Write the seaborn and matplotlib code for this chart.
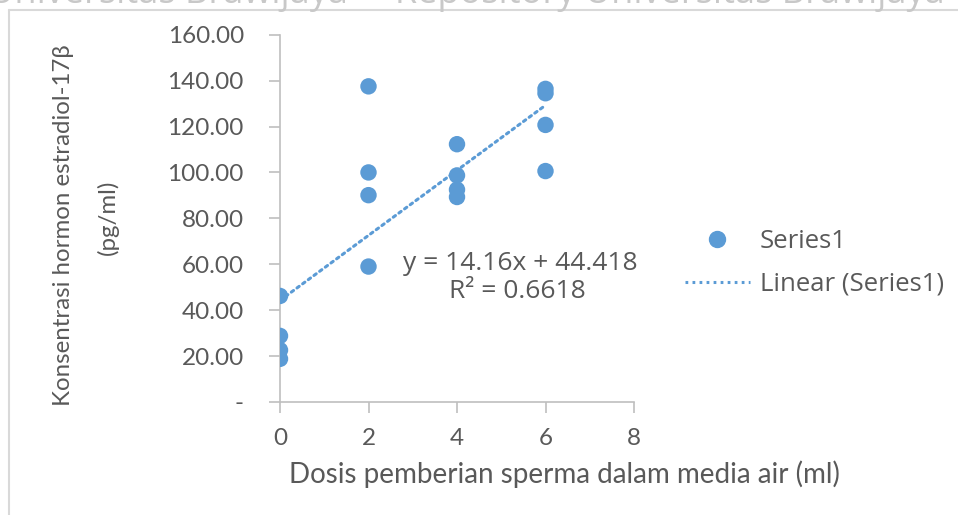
import numpy as np
import pandas as pd
import matplotlib
matplotlib.use("Agg")
import matplotlib.pyplot as plt
from matplotlib.lines import Line2D
import seaborn as sns

# ---- data ----
dose_ml = [0, 0, 0, 0, 2, 2, 2, 2, 4, 4, 4, 4, 6, 6, 6, 6]
estradiol = [46.2, 28.8, 22.6, 18.8,
             137.5, 100.0, 90.1, 59.0,
             112.3, 98.7, 92.5, 89.3,
             136.4, 134.5, 120.7, 100.6]
x_ticks = [0, 2, 4, 6, 8]
y_ticks = [0, 20, 40, 60, 80, 100, 120, 140, 160]
y_tick_labels = ["-", "20.00", "40.00", "60.00", "80.00", "100.00", "120.00", "140.00", "160.00"]
series_name = "Series1"
trend_name = "Linear (Series1)"
eq_text = "y = 14.16x + 44.418"
r2_text = "R\u00b2 = 0.6618"
x_label = "Dosis pemberian sperma dalam media air (ml)"
y_label_1 = "Konsentrasi hormon estradiol-17\u03b2"
y_label_2 = "(pg/ml)"
watermark = "Universitas Brawijaya     Repository Universitas Brawijaya"

df = pd.DataFrame({"dose": dose_ml, "e2": estradiol})
slope, intercept = np.polyfit(df["dose"], df["e2"], 1)
xs = np.array([min(dose_ml), max(dose_ml)], dtype=float)
trend = pd.DataFrame({"dose": xs, "fit": slope * xs + intercept})

sns.set_theme(style="white")
plt.rcParams["font.family"] = ["Lato", "DejaVu Sans"]

BLUE = "#5B9BD5"
TXT = "#595959"
AX = "#BFBFBF"
SEGOE = ["Open Sans", "DejaVu Sans"]
DOTS = (0, (0.9, 1.4))

fig = plt.figure(figsize=(9.58, 5.15), dpi=100)
ax = fig.add_axes([280 / 958, 1 - 402 / 515, (634 - 280) / 958, (402 - 34.7) / 515])

sns.lineplot(data=trend, x="dose", y="fit", ax=ax, color=BLUE, lw=2.2,
             linestyle=DOTS, dash_capstyle="round", zorder=2)
sns.scatterplot(data=df, x="dose", y="e2", ax=ax, color=BLUE, s=140,
                edgecolor="none", zorder=3)

ax.set_xlim(0, 8)
ax.set_ylim(0, 160)
ax.set_xticks(x_ticks)
ax.set_yticks(y_ticks)
ax.set_yticklabels(y_tick_labels)
ax.set_xlabel("")
ax.set_ylabel("")
for s in ["top", "right"]:
    ax.spines[s].set_visible(False)
for s in ["left", "bottom"]:
    ax.spines[s].set_color(AX)
    ax.spines[s].set_linewidth(1.2)
ax.tick_params(axis="both", direction="out", length=8, width=1.2, color=AX,
               labelcolor=TXT, labelsize=17.5)
ax.tick_params(axis="y", pad=18)
ax.tick_params(axis="x", pad=11)
ax.tick_params(left=True, bottom=True)
ax.grid(False)

# regression equation
fig.text(403 / 958, 1 - 263 / 515, eq_text, fontsize=19, color=TXT,
         family=SEGOE, ha="left", va="center")
fig.text(517 / 958, 1 - 292 / 515, r2_text, fontsize=19, color=TXT,
         family=SEGOE, ha="center", va="center")

# axis titles
fig.text(564 / 958, 1 - 474 / 515, x_label, fontsize=20, color=TXT,
         ha="center", va="center")
fig.text(64 / 958, 1 - 225 / 515, y_label_1, fontsize=17.3, color=TXT,
         ha="center", va="center", rotation=90)
fig.text(108 / 958, 1 - 217 / 515, y_label_2, fontsize=17.3, color=TXT,
         ha="center", va="center", rotation=90)

# legend
handles = [Line2D([], [], marker="o", color=BLUE, linestyle="none", markersize=11.5),
           Line2D([], [], color=BLUE, lw=2.2, linestyle=DOTS)]
fig.legend(handles, [series_name, trend_name], loc="center left",
           bbox_to_anchor=(675 / 958, 1 - 263 / 515), frameon=False,
           prop={"family": SEGOE, "size": 18.5}, labelcolor=TXT,
           handlelength=2.5, handletextpad=0.4, labelspacing=0.7,
           borderaxespad=0)

# chart border and watermark
fig.add_artist(plt.Line2D([9 / 958, 9 / 958], [0, 1 - 10 / 515],
                          transform=fig.transFigure, color="#D9D9D9", lw=1.5))
fig.add_artist(plt.Line2D([9 / 958, 1], [1 - 10 / 515, 1 - 10 / 515],
                          transform=fig.transFigure, color="#D9D9D9", lw=1.5))
fig.text(-12 / 958, 1 - 12 / 515, watermark, fontsize=26, color="#C8C8C8",
         family=SEGOE, ha="left", va="bottom")

fig.savefig("out.png", dpi=100, facecolor="white")
